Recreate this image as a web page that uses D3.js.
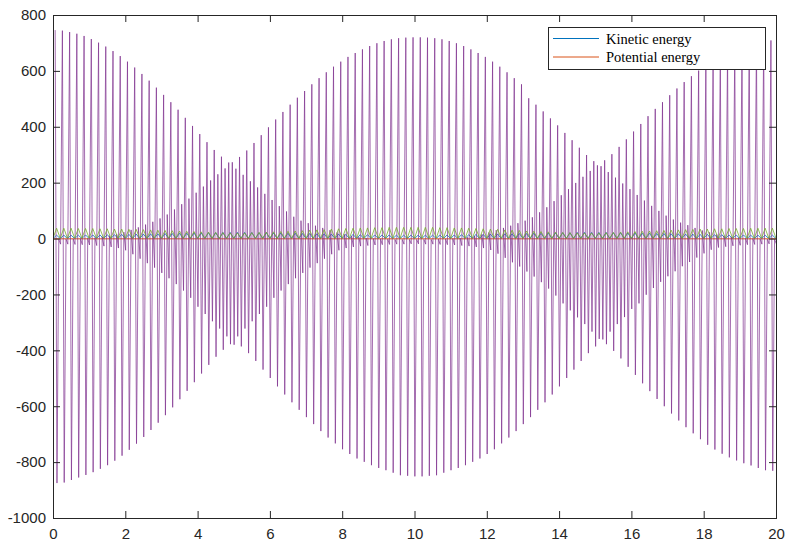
<!DOCTYPE html>
<html>
<head>
<meta charset="utf-8">
<script src="https://cdn.jsdelivr.net/npm/d3@7"></script>
<style>
  body { margin: 0; background: #fff; }
  svg { display: block; }
</style>
</head>
<body>
<div id="chart"></div>
<script>
// sampling of the oscillation (one cycle = 0.2 s, 4 samples per cycle)
const period = 0.2;
const cycleStart = 0.06;
const sampleStep = 0.05;

// purple trace: peak values per cycle
const spikeATop = [
  746,744,739,733,725,714,701,687,671,653,
  633,612,589,565,540,514,488,461,432,403,
  374,345,317,293,272,250,228,205,183,160,
  138,116,97,78,64,55,46,38,30,22,
  15,9,5,2,0,-1,-2,-3,-3,-3,
  -3,-3,-3,-2,-1,0,2,5,9,15,
  22,30,38,46,55,64,76,94,112,134,
  155,177,199,221,242,262,280,302,328,355,
  383,410,438,464,488,513,537,560,581,601,
  620,637,653,666,678,689,696,702,707,709
];
const spikeABottom = [
  -875,-873,-864,-855,-846,-836,-824,-811,-795,-777,
  -756,-734,-710,-685,-659,-632,-604,-575,-545,-514,
  -483,-452,-423,-398,-378,-350,-322,-296,-270,-244,
  -212,-186,-163,-142,-123,-104,-88,-72,-56,-42,
  -34,-30,-27,-25,-23,-22,-21,-20,-20,-19,
  -19,-20,-20,-21,-22,-23,-25,-27,-30,-34,
  -41,-54,-69,-85,-100,-118,-136,-156,-179,-204,
  -232,-257,-282,-306,-333,-359,-378,-402,-429,-459,
  -488,-518,-546,-574,-600,-626,-651,-675,-697,-718,
  -738,-755,-770,-783,-794,-804,-812,-821,-829,-831
];
const spikeBTop = [
  -3,-2,-1,0,1,3,6,10,16,23,
  31,40,50,60,72,86,104,123,143,164,
  186,208,230,251,273,292,315,342,370,398,
  426,453,479,504,528,552,574,595,615,633,
  650,664,677,689,699,707,713,717,719,720,
  720,719,717,713,707,699,689,677,664,650,
  633,615,595,574,552,502,479,455,430,405,
  378,352,325,299,277,259,238,218,197,177,
  156,136,117,99,82,68,57,48,38,29,
  22,15,10,6,3,1,0,-1,-2,-3
];
const spikeBBottom = [
  -20,-20,-21,-22,-23,-25,-27,-30,-34,-42,
  -56,-72,-88,-104,-123,-142,-163,-186,-212,-244,
  -270,-296,-322,-350,-380,-386,-410,-438,-469,-499,
  -529,-558,-586,-613,-639,-664,-689,-712,-733,-754,
  -771,-787,-799,-811,-821,-829,-838,-847,-849,-851,
  -851,-849,-847,-838,-829,-821,-811,-799,-787,-771,
  -754,-733,-712,-689,-664,-639,-613,-586,-558,-529,
  -499,-469,-438,-410,-386,-361,-333,-306,-281,-252,
  -232,-201,-177,-155,-135,-117,-99,-84,-68,-53,
  -40,-32,-29,-26,-24,-22,-21,-20,-19,-19
];

// small green trace: peak per cycle, trough value
const greenPeak = [
  37,37,37,36,36,36,35,35,34,34,
  33,33,32,31,30,29,28,27,26,25,
  24,23,22,21,20,20,20,21,22,23,
  24,25,26,27,28,30,31,32,34,35,
  36,37,38,38,39,39,40,40,40,40,
  40,40,40,39,39,38,38,37,36,35,
  34,33,31,30,29,27,26,25,24,23,
  22,21,20,20,20,20,21,22,23,24,
  25,26,27,28,29,30,31,32,33,34,
  34,35,35,36,36,36,37,37,37,37
];
const greenTrough = 1;

// kinetic energy (blue): peak per cycle
const kineticPeak = [
  12,12,12,12,13,13,13,14,14,15,
  15,16,16,17,17,18,18,19,19,20,
  20,21,21,22,22,22,22,22,21,21,
  20,20,19,19,18,18,17,17,16,16,
  15,15,14,14,13,13,13,12,12,12,
  12,12,12,13,13,13,14,14,15,15,
  16,16,17,17,18,18,19,19,20,20,
  21,21,22,22,22,22,22,21,21,20,
  20,19,19,18,18,17,17,16,16,15,
  15,14,14,13,13,13,12,12,12,12
];
const kineticTrough = 0;

// potential energy (orange): one value per second
const potentialTimes = [0,1,2,3,4,5,6,7,8,9,10,11,12,13,14,15,16,17,18,19,20];
const potentialValues = [-1,-1,-1,-1,-1,-1,-1,-1,-1,-1,-1,-1,-1,-1,-1,-1,-1,-1,-1,-1,-1];

const xTicks = [0,2,4,6,8,10,12,14,16,18,20];
const yTicks = [-1000,-800,-600,-400,-200,0,200,400,600,800];
const legendNames = ["Kinetic energy", "Potential energy"];
const legendColors = ["#0072BD", "#D95319"];

const W = 787, H = 545;
const margin = { top: 15, right: 11, bottom: 27, left: 53 };
const width = W - margin.left - margin.right;
const height = H - margin.top - margin.bottom;

const xScale = d3.scaleLinear().domain([0, 20]).range([0, width]);
const yScale = d3.scaleLinear().domain([-1000, 800]).range([height, 0]);

const svgRoot = d3.select("#chart").append("svg")
    .attr("width", W)
    .attr("height", H);
svgRoot.append("rect").attr("width", W).attr("height", H).attr("fill", "#fff");

const svg = svgRoot.append("g")
    .attr("transform", `translate(${margin.left}, ${margin.top})`);

svg.append("clipPath").attr("id", "plotclip")
    .append("rect").attr("width", width).attr("height", height);

// build point lists
const purplePts = [];
spikeATop.forEach((v, k) => {
    const t = cycleStart + k * period;
    purplePts.push([t, v]);
    purplePts.push([t + sampleStep, spikeABottom[k]]);
    purplePts.push([t + 2 * sampleStep, spikeBTop[k]]);
    purplePts.push([t + 3 * sampleStep, spikeBBottom[k]]);
});

function triPoints(peaks, trough) {
    const pts = [];
    peaks.forEach((v, k) => {
        pts.push([k * period, trough]);
        pts.push([k * period + period / 2, v]);
    });
    pts.push([peaks.length * period, trough]);
    return pts;
}
const greenPts = triPoints(greenPeak, greenTrough);
const kineticPts = triPoints(kineticPeak, kineticTrough);
const potentialPts = potentialTimes.map((t, i) => [t, potentialValues[i]]);

const line = d3.line()
    .x(d => xScale(d[0]))
    .y(d => yScale(d[1]));

const plot = svg.append("g").attr("clip-path", "url(#plotclip)");

plot.append("path").datum(kineticPts)
    .attr("d", line).attr("fill", "none")
    .attr("stroke", "#0072BD").attr("stroke-width", 0.8);

plot.append("path").datum(potentialPts)
    .attr("d", line).attr("fill", "none")
    .attr("stroke", "#D95319").attr("stroke-width", 1);

plot.append("path").datum(purplePts)
    .attr("d", line).attr("fill", "none")
    .attr("stroke", "#7E2F8E").attr("stroke-width", 0.7)
    .attr("stroke-linejoin", "miter").attr("stroke-miterlimit", 1);

plot.append("path").datum(greenPts)
    .attr("d", line).attr("fill", "none")
    .attr("stroke", "#77AC30").attr("stroke-width", 0.8);

// axes, MATLAB style (ticks inside, box on)
const fmt = d => String(d);
const axisColor = "#262626";

const xAxis = svg.append("g")
    .attr("transform", `translate(0, ${height})`)
    .call(d3.axisBottom(xScale).tickValues(xTicks).tickSize(-7).tickPadding(10).tickFormat(fmt));
const yAxis = svg.append("g")
    .call(d3.axisLeft(yScale).tickValues(yTicks).tickSize(-7).tickPadding(7).tickFormat(fmt));
const xTop = svg.append("g")
    .call(d3.axisTop(xScale).tickValues(xTicks).tickSize(-7).tickFormat(""));
const yRight = svg.append("g")
    .attr("transform", `translate(${width}, 0)`)
    .call(d3.axisRight(yScale).tickValues(yTicks).tickSize(-7).tickFormat(""));

[xAxis, yAxis, xTop, yRight].forEach(g => {
    g.selectAll(".domain").attr("stroke", axisColor).attr("shape-rendering", "crispEdges");
    g.selectAll(".tick line").attr("stroke", axisColor);
    g.selectAll(".tick text")
        .attr("fill", axisColor)
        .style("font-family", "'Liberation Sans', Arial, sans-serif")
        .style("font-size", "15px");
});

// legend
const legend = svgRoot.append("g");
legend.append("rect")
    .attr("x", 548).attr("y", 27.5)
    .attr("width", 217).attr("height", 42)
    .attr("fill", "#fff")
    .attr("stroke", axisColor).attr("stroke-width", 1)
    .attr("shape-rendering", "crispEdges");

legendNames.forEach((name, i) => {
    const yy = 38.5 + i * 18.5;
    legend.append("line")
        .attr("x1", 553).attr("x2", 599)
        .attr("y1", yy).attr("y2", yy)
        .attr("stroke", legendColors[i]).attr("stroke-width", 1);
    legend.append("text")
        .attr("x", 606).attr("y", yy)
        .attr("dy", "0.35em")
        .text(name)
        .style("font-family", "'Liberation Serif', 'Times New Roman', serif")
        .style("font-size", "14.5px")
        .attr("fill", "#000");
});
</script>
</body>
</html>
